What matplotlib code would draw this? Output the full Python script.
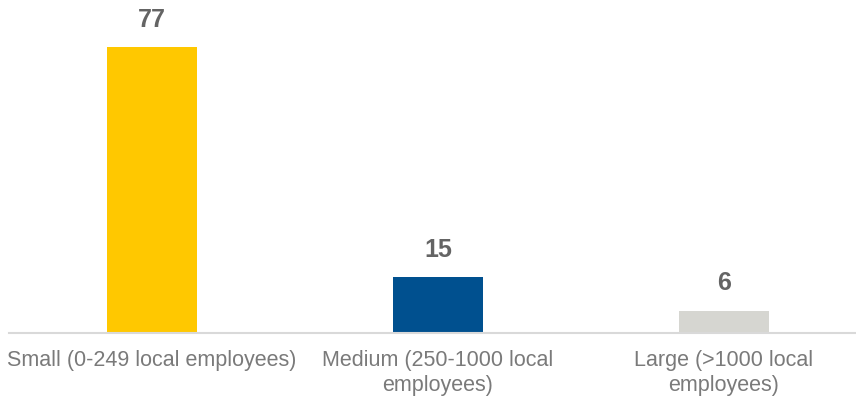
import matplotlib.pyplot as plt

categories = ["Small (0-249 local employees)",
              "Medium (250-1000 local\nemployees)",
              "Large (>1000 local\nemployees)"]
values = [77, 15, 6]
colors = ["#FFC800", "#00508F", "#D6D6D1"]

plt.rcParams['font.family'] = ['Liberation Sans', 'DejaVu Sans']

fig = plt.figure(figsize=(8.56, 3.96), dpi=100)
ax = fig.add_axes([9 / 856, 63 / 396, 847 / 856, 333 / 396])

x = range(len(values))
bars = ax.bar(x, values, width=0.315, color=colors, zorder=2)
for bar, v in zip(bars, values):
    ax.annotate(str(v), (bar.get_x() + bar.get_width() / 2, v),
                xytext=(0, 11), textcoords="offset points",
                ha="center", va="bottom", fontsize=18, fontweight="bold",
                color="#646464")

ax.set_xlim(-0.5, 2.5 - 11 / 286)
ax.set_ylim(0, 89.7)
ax.set_xticks(list(x))
ax.set_xticklabels(categories, fontsize=15.5, color="#7A7A7A", linespacing=1.25)
ax.tick_params(axis="x", length=0, pad=12)
ax.set_yticks([])
for side in ["top", "right", "left"]:
    ax.spines[side].set_visible(False)
ax.spines["bottom"].set_color("#D9D9D9")
ax.spines["bottom"].set_linewidth(1.5)

fig.savefig("out.png", dpi=100)
plt.close(fig)
